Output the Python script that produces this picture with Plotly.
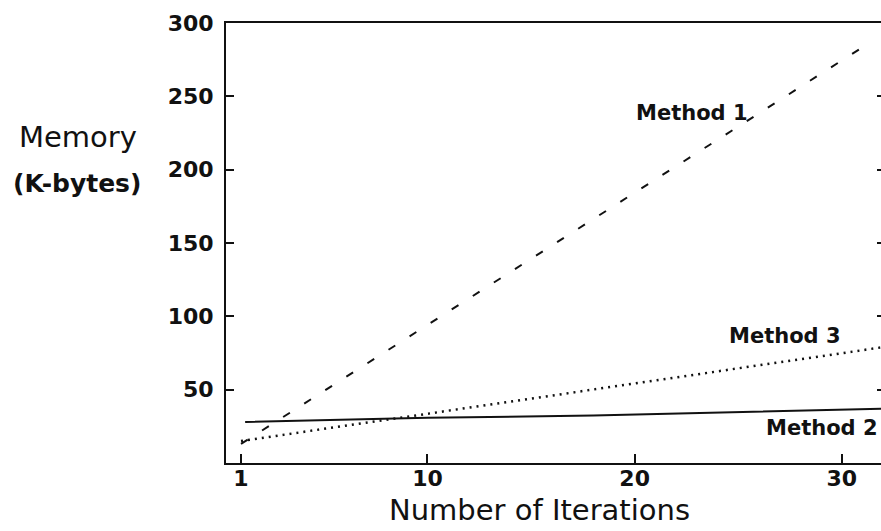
import plotly.graph_objects as go

# Data
m1_x = [1, 31.5]
m1_y = [13, 288]
m2_x = [1.2, 10, 18, 23, 28, 32]
m2_y = [28, 30.8, 32.4, 34, 35.6, 37]
m3_x = [1, 10, 20, 30, 32]
m3_y = [15, 33.5, 54.5, 75, 79]

x_ticks = [1, 10, 20, 30]
y_ticks = [50, 100, 150, 200, 250, 300]

labels = ["Method 1", "Method 2", "Method 3"]
label_pos = [(22.77, 238.6), (29.04, 23.9), (27.25, 86.6)]

FONT = "DejaVu Sans"
ink = "#111111"

fig = go.Figure()
fig.add_trace(go.Scatter(x=m1_x, y=m1_y, mode="lines",
                         line=dict(color=ink, width=2, dash="8px,17px"), showlegend=False))
fig.add_trace(go.Scatter(x=m2_x, y=m2_y, mode="lines",
                         line=dict(color=ink, width=2), showlegend=False))
fig.add_trace(go.Scatter(x=m3_x, y=m3_y, mode="lines",
                         line=dict(color=ink, width=2.5, dash="2px,5px"), showlegend=False))
# invisible trace to activate right-side tick axis
fig.add_trace(go.Scatter(x=[m1_x[0]], y=[m1_y[0]], yaxis="y2", mode="markers",
                         marker=dict(opacity=0), showlegend=False, hoverinfo="skip"))

for text, (lx, ly) in zip(labels, label_pos):
    fig.add_annotation(x=lx, y=ly, text=text, showarrow=False,
                       font=dict(family=FONT, size=21, color=ink, weight="bold"),
                       xanchor="center", yanchor="middle")

fig.add_annotation(xref="paper", yref="paper", x=(78 - 226) / 655, y=(463 - 137) / 440,
                   text="Memory", showarrow=False,
                   font=dict(family=FONT, size=29, color=ink),
                   xanchor="center", yanchor="middle")
fig.add_annotation(xref="paper", yref="paper", x=(77 - 226) / 655, y=(463 - 183) / 440,
                   text="(K-bytes)", showarrow=False,
                   font=dict(family=FONT, size=25, color=ink, weight="bold"),
                   xanchor="center", yanchor="middle")
fig.add_annotation(xref="paper", yref="paper", x=(539.5 - 226) / 655, y=-0.107,
                   text="Number of Iterations", showarrow=False,
                   font=dict(family=FONT, size=29, color=ink),
                   xanchor="center", yanchor="middle")

fig.update_layout(
    width=881, height=531,
    margin=dict(l=226, r=0, t=23, b=68, autoexpand=False),
    paper_bgcolor="white", plot_bgcolor="white",
    xaxis=dict(range=[0.276, 31.89], tickvals=x_ticks, ticks="inside", ticklen=9,
               tickwidth=2, tickcolor=ink, showline=True, linecolor=ink, linewidth=2,
               mirror=True, showgrid=False, zeroline=False, automargin=False,
               tickfont=dict(family=FONT, size=22, color=ink, weight="bold"),
               ticklabelstandoff=-5),
    yaxis=dict(range=[0, 300], tickvals=y_ticks, ticks="inside", ticklen=8,
               tickwidth=2, tickcolor=ink, showline=True, linecolor=ink, linewidth=2,
               showgrid=False, zeroline=False, automargin=False,
               tickfont=dict(family=FONT, size=22, color=ink, weight="bold"),
               ticklabelstandoff=6),
    yaxis2=dict(range=[0, 300], tickvals=y_ticks[:-1], ticks="inside", ticklen=4,
                tickwidth=2, tickcolor=ink, showline=False, showticklabels=False,
                showgrid=False, zeroline=False, overlaying="y", side="right",
                automargin=False),
)

fig.write_html(
    "out.html",
    config={"displayModeBar": False},
    post_script="document.body.style.margin='0';document.body.style.overflow='hidden';",
)
